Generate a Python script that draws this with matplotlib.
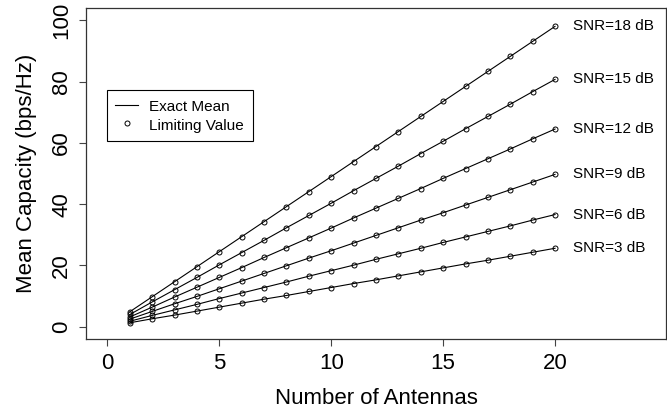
#################
### plot.py ###
#################

import matplotlib
matplotlib.use('Agg')
from matplotlib import pyplot as plt

plt.rcParams['font.family'] = ['Liberation Sans', 'DejaVu Sans']

#
# data (mean capacity, bps/Hz)
#
antennas = list(range(1, 21))

snr_labels = ['SNR=3 dB', 'SNR=6 dB', 'SNR=9 dB', 'SNR=12 dB', 'SNR=15 dB', 'SNR=18 dB']

cap_3db = [1.3, 2.6, 3.8, 5.1, 6.4, 7.7, 9.0, 10.2, 11.5, 12.8,
           14.1, 15.3, 16.6, 17.9, 19.2, 20.5, 21.7, 23.0, 24.3, 25.6]
cap_6db = [1.8, 3.7, 5.5, 7.3, 9.2, 11.0, 12.8, 14.6, 16.5, 18.3,
           20.1, 22.0, 23.8, 25.6, 27.5, 29.3, 31.1, 32.9, 34.8, 36.6]
cap_9db = [2.5, 5.0, 7.5, 9.9, 12.4, 14.9, 17.4, 19.9, 22.4, 24.8,
           27.3, 29.8, 32.3, 34.8, 37.2, 39.7, 42.2, 44.7, 47.2, 49.7]
cap_12db = [3.2, 6.4, 9.7, 12.9, 16.1, 19.3, 22.6, 25.8, 29.0, 32.2,
            35.5, 38.7, 41.9, 45.1, 48.4, 51.6, 54.8, 58.0, 61.3, 64.5]
cap_15db = [4.0, 8.1, 12.1, 16.1, 20.2, 24.2, 28.2, 32.3, 36.3, 40.3,
            44.4, 48.4, 52.4, 56.5, 60.5, 64.6, 68.6, 72.6, 76.7, 80.7]
cap_18db = [4.9, 9.8, 14.7, 19.6, 24.5, 29.4, 34.3, 39.2, 44.1, 49.0,
            53.9, 58.8, 63.7, 68.6, 73.5, 78.4, 83.3, 88.2, 93.1, 98.0]

series = [cap_3db, cap_6db, cap_9db, cap_12db, cap_15db, cap_18db]

#################

fig = plt.figure(figsize=(6.67, 4.08), dpi=100)
ax = fig.add_axes([86 / 667, 1 - 339 / 408, 580 / 667, 331 / 408])

for i, vals in enumerate(series):
    # exact mean as a line, limiting value as open circles
    ax.plot(antennas, vals, color='black', linewidth=0.8,
            label='Exact Mean' if i == 0 else None)
    ax.plot(antennas, vals, 'o', markersize=3.6, markerfacecolor='none',
            markeredgecolor='black', markeredgewidth=0.7,
            label='Limiting Value' if i == 0 else None)
    ax.annotate(snr_labels[i], xy=(antennas[-1], vals[-1]), xytext=(13, 0),
                textcoords='offset points', ha='left', va='center', fontsize=11)

ax.set_xlim(-0.96, 24.96)
ax.set_ylim(-4, 104)
ax.set_xticks([0, 5, 10, 15, 20])
ax.set_yticks([0, 20, 40, 60, 80, 100])
ax.tick_params(axis='both', labelsize=16, length=5, width=0.8, color='#444444')
ax.tick_params(axis='x', pad=5)
ax.tick_params(axis='y', pad=5)
for lab in ax.get_yticklabels():
    lab.set_rotation(90)
    lab.set_va('center')

for sp in ax.spines.values():
    sp.set_color('#333333')
    sp.set_linewidth(0.9)

ax.set_xlabel('Number of Antennas', fontsize=16, labelpad=10)
ax.set_ylabel('Mean Capacity (bps/Hz)', fontsize=16, labelpad=10)

leg = ax.legend(loc='upper left', bbox_to_anchor=(0.0357, 0.7517), fontsize=11,
                frameon=True, fancybox=False, edgecolor='black', framealpha=1,
                handlelength=1.5, handleheight=1.15, handletextpad=0.75,
                borderpad=0.55, labelspacing=0.17, borderaxespad=0)
leg.get_frame().set_linewidth(0.8)

plt.savefig('out.png', dpi=100)
